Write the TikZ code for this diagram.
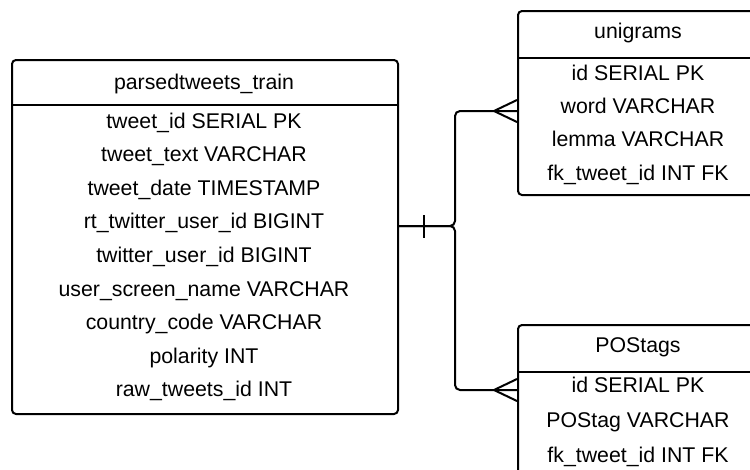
\documentclass[tikz,border=0pt]{standalone}
\usepackage{fontspec}
\setmainfont{Liberation Sans}
\begin{document}
\begin{tikzpicture}[x=1pt,y=-1pt,
  line width=2pt,
  tablebox/.style={draw=black, rounded corners=4pt, anchor=north west,
    inner sep=0pt, fill=white},
  field/.style={anchor=base, inner sep=0pt,
    font=\fontsize{21.3}{24}\selectfont},
  link/.style={draw=black, line width=2pt, rounded corners=5pt},
  notation/.style={draw=black, line width=2pt}
]
\useasboundingbox (0,0) rectangle (750,469);
\clip (0,0) rectangle (750,469);

% --- parsedtweets_train ---
\node[tablebox, minimum width=386pt, minimum height=354pt] (pt) at (11,59) {};
\draw (pt.west |- 0,105) -- (pt.east |- 0,105);
\node[field] (pth) at (204,89) {parsedtweets\_train};
\node[field] (pt1) at (204,128) {tweet\_id SERIAL PK};
\node[field] (pt2) at (204,161.6) {tweet\_text VARCHAR};
\node[field] (pt3) at (204,195.2) {tweet\_date TIMESTAMP};
\node[field] (pt4) at (204,228.8) {rt\_twitter\_user\_id BIGINT};
\node[field] (pt5) at (204,262.4) {twitter\_user\_id BIGINT};
\node[field] (pt6) at (204,296) {user\_screen\_name VARCHAR};
\node[field] (pt7) at (204,329.6) {country\_code VARCHAR};
\node[field] (pt8) at (204,363.2) {polarity INT};
\node[field] (pt9) at (204,396.8) {raw\_tweets\_id INT};

% --- unigrams ---
\node[tablebox, minimum width=242pt, minimum height=184pt] (ug) at (517,10) {};
\draw (ug.west |- 0,58) -- (ug.east |- 0,58);
\node[field] (ugh) at (638,38) {unigrams};
\node[field] (ug1) at (638,80) {id SERIAL PK};
\node[field] (ug2) at (638,113) {word VARCHAR};
\node[field] (ug3) at (638,146) {lemma VARCHAR};
\node[field] (ug4) at (638,180) {fk\_tweet\_id INT FK};

% --- POStags ---
\node[tablebox, minimum width=242pt, minimum height=170pt] (pos) at (517,324) {};
\draw (pos.west |- 0,372) -- (pos.east |- 0,372);
\node[field] (posh) at (638,352) {POStags};
\node[field] (pos1) at (638,392) {id SERIAL PK};
\node[field] (pos2) at (638,427) {POStag VARCHAR};
\node[field] (pos3) at (638,462) {fk\_tweet\_id INT FK};

% --- relationship: one parsed tweet to many unigrams / POS tags ---
\coordinate (src) at (pt.east |- 0,226);
\coordinate (fork) at (455,226);
\coordinate (ugend) at (ug.west |- 0,111);
\coordinate (posend) at (pos.west |- 0,390);
\draw[link] (src) -- (fork) -- (fork |- ugend) -- (ugend);
\draw[link] (src) -- (fork) -- (fork |- posend) -- (posend);

% "one" bar
\draw[notation] ([xshift=25pt,yshift=-11.5pt]src) -- ([xshift=25pt,yshift=11.5pt]src);
% crow's feet
\draw[notation] ([xshift=-23pt]ugend) -- ([yshift=-11pt]ugend);
\draw[notation] ([xshift=-23pt]ugend) -- ([yshift=11pt]ugend);
\draw[notation] ([xshift=-23pt]posend) -- ([yshift=-11pt]posend);
\draw[notation] ([xshift=-23pt]posend) -- ([yshift=11pt]posend);
\end{tikzpicture}
\end{document}
